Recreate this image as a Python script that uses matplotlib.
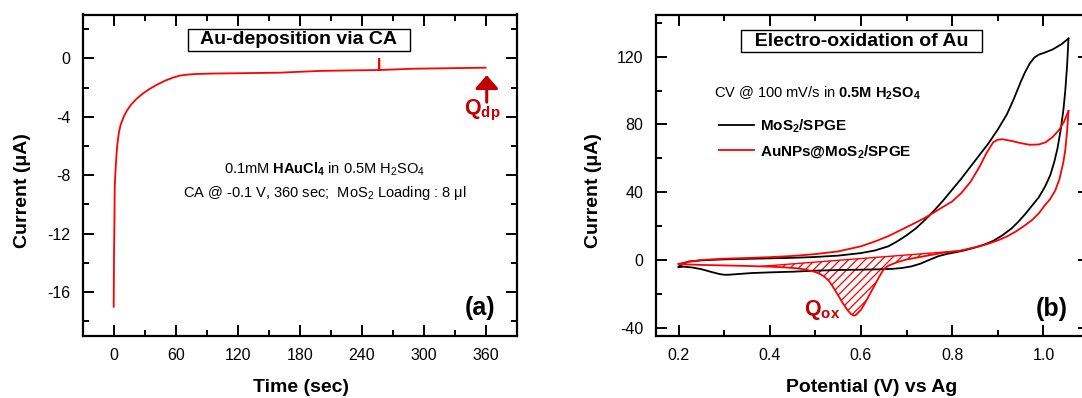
import matplotlib
matplotlib.use("Agg")
import numpy as np
import matplotlib.pyplot as plt
from matplotlib.ticker import MultipleLocator

# ---- (a) chronoamperometry: Au deposition ----
ca_time = [0, 0.3, 0.7, 1.0, 1.5, 2, 3, 4, 5, 6.5, 8, 10, 13, 17, 22, 28, 35,
           42, 50, 57, 64, 72, 80, 96, 120, 140, 161, 180, 200, 225, 257,
           257, 257, 290, 320, 340, 360]
ca_current = [-17.0, -13.5, -11.1, -8.8, -8.0, -7.4, -6.3, -5.6, -5.1, -4.6,
              -4.3, -3.95, -3.55, -3.15, -2.78, -2.42, -2.08, -1.8, -1.52, -1.33,
              -1.18, -1.11, -1.07, -1.04, -1.02, -1.0, -0.98, -0.92, -0.86,
              -0.83, -0.80, -0.03, -0.80, -0.71, -0.68, -0.66, -0.64]

# ---- (b) cyclic voltammetry: electro-oxidation of Au ----
mos2_fwd_v = [0.20, 0.21, 0.222, 0.25, 0.30, 0.35, 0.40, 0.45, 0.50, 0.55, 0.60,
              0.63, 0.66, 0.68, 0.70, 0.72, 0.74, 0.76, 0.78, 0.80, 0.82, 0.84,
              0.86, 0.88, 0.90, 0.92, 0.935, 0.95, 0.96, 0.97, 0.98, 0.99, 1.00,
              1.02, 1.04, 1.055]
mos2_fwd_i = [-4.0, -2.4, -1.0, -0.3, 0.3, 0.6, 0.9, 1.2, 1.7, 2.5, 4.0,
              5.5, 8.0, 11.0, 14.5, 18.5, 23.5, 29.0, 35.0, 41.5, 48.0, 55.0,
              62.0, 69.0, 77.0, 86.0, 95.0, 105.0, 111.0, 116.0, 119.5, 121.3,
              122.2, 124.3, 127.5, 130.8]
mos2_rev_v = [1.055, 1.052, 1.048, 1.044, 1.038, 1.031, 1.024, 1.015, 1.004,
              0.99, 0.975, 0.96, 0.945, 0.93, 0.91, 0.89, 0.87, 0.85, 0.83,
              0.81, 0.79, 0.77, 0.75, 0.73, 0.71, 0.69, 0.67, 0.64, 0.60, 0.55,
              0.50, 0.45, 0.40, 0.36, 0.33, 0.31, 0.30, 0.29, 0.27, 0.25, 0.23,
              0.21, 0.20]
mos2_rev_i = [130.8, 115.0, 100.0, 89.0, 77.0, 66.0, 58.0, 50.0, 43.5,
              37.0, 32.0, 27.0, 22.5, 18.5, 14.5, 11.2, 9.0, 7.3, 5.8,
              4.6, 3.6, 2.2, 0.0, -2.3, -3.9, -4.8, -5.3, -5.6, -5.8, -6.0,
              -6.4, -7.0, -7.4, -7.8, -8.4, -8.8, -8.8, -8.4, -7.0, -5.5, -4.5,
              -4.0, -4.4]

au_fwd_v = [0.20, 0.22, 0.25, 0.30, 0.35, 0.40, 0.45, 0.50, 0.55, 0.60, 0.63,
            0.66, 0.69, 0.72, 0.74, 0.76, 0.78, 0.80, 0.82, 0.84, 0.86, 0.875,
            0.89, 0.90, 0.91, 0.93, 0.95, 0.97, 0.99, 1.005, 1.02, 1.035,
            1.045, 1.055]
au_fwd_i = [-2.4, -1.2, -0.1, 0.7, 1.1, 1.6, 2.3, 3.4, 5.0, 8.0, 10.8,
            14.0, 18.0, 22.0, 24.8, 28.0, 31.3, 34.5, 39.5, 46.0, 55.0, 63.0,
            69.5, 71.0, 71.3, 70.3, 69.0, 68.0, 68.2, 69.5, 72.5, 77.0,
            81.5, 88.0]
au_rev_v = [1.055, 1.052, 1.048, 1.044, 1.035, 1.026, 1.015, 1.004, 0.99,
            0.975, 0.96, 0.94, 0.92, 0.90, 0.88, 0.86, 0.84, 0.815, 0.78,
            0.76, 0.74, 0.72, 0.70, 0.68, 0.66, 0.65, 0.64, 0.63, 0.62, 0.61,
            0.60, 0.59, 0.585, 0.578, 0.57, 0.56, 0.55, 0.54, 0.53, 0.52,
            0.51, 0.50, 0.48, 0.46, 0.43, 0.40, 0.38, 0.35, 0.30, 0.25, 0.22,
            0.20]
au_rev_i = [88.0, 76.0, 65.0, 58.0, 47.5, 41.0, 36.0, 32.5, 27.5,
            23.5, 20.5, 16.8, 13.8, 11.5, 9.6, 8.0, 6.8, 5.3, 4.2,
            3.2, 2.2, 1.2, 0.2, -1.3, -3.5, -5.5, -10.0, -15.0, -20.0, -25.0,
            -29.5, -32.3, -33.0, -32.0, -29.5, -25.5, -21.0, -16.5, -12.5, -10.0,
            -8.3, -7.2, -5.8, -5.0, -4.4, -4.0, -3.85, -3.6, -3.3, -3.0, -2.7,
            -2.4]

# baseline under the Au-oxide reduction peak
qox_base_v = [0.38, 0.815]
qox_base_i = [-3.85, 5.3]

DARK_RED = "#C00000"


def setup_fonts():
    """Arial-like fonts everywhere, also inside mathtext."""
    plt.rcParams["font.family"] = ["Liberation Sans", "DejaVu Sans"]
    plt.rcParams["mathtext.fontset"] = "custom"
    plt.rcParams["mathtext.rm"] = "Liberation Sans"
    plt.rcParams["mathtext.bf"] = "Liberation Sans:bold"
    plt.rcParams["mathtext.it"] = "Liberation Sans:italic"
    plt.rcParams["axes.unicode_minus"] = False
    plt.rcParams["hatch.linewidth"] = 0.9


def style_axes(ax):
    """Origin-like frame: thick spines, inward ticks on all four sides."""
    for s in ax.spines.values():
        s.set_linewidth(1.6)
    ax.tick_params(which="both", direction="in", top=True, right=True,
                   width=1.4, labelsize=11.5)
    ax.tick_params(which="major", length=8)
    ax.tick_params(which="minor", length=4)
    ax.tick_params(axis="x", pad=8.5)
    ax.tick_params(axis="y", pad=9)


def title_box(ax, x, y, text):
    ax.text(x, y, "  " + text + "  ", transform=ax.transAxes,
            ha="center", va="center", fontsize=14, fontweight="bold",
            bbox=dict(boxstyle="square,pad=0.13", fc="white", ec="black", lw=1.0))


def plot_ca(ax):
    ax.plot(ca_time, ca_current, color="red", lw=1.3)
    ax.set_xlim(-30, 390)
    ax.set_ylim(-19, 3)
    ax.xaxis.set_major_locator(MultipleLocator(60))
    ax.xaxis.set_minor_locator(MultipleLocator(30))
    ax.yaxis.set_major_locator(MultipleLocator(4))
    ax.yaxis.set_minor_locator(MultipleLocator(2))
    style_axes(ax)

    ax.set_xlabel("Time (sec)", fontsize=14, fontweight="bold")
    ax.set_ylabel("Current (μA)", fontsize=14, fontweight="bold")
    ax.xaxis.set_label_coords(0.503, -0.135)
    ax.yaxis.set_label_coords(-0.12, 0.452)

    title_box(ax, 0.498, 0.9216, "Au-deposition via CA")
    ax.text(204, -7.6, r"0.1mM $\mathbf{HAuCl}_\mathbf{4}$ in 0.5M H$_2$SO$_4$",
            ha="center", va="center", fontsize=10.5)
    ax.text(204, -9.2, r"CA @ -0.1 V, 360 sec;  MoS$_2$ Loading : 8 μl",
            ha="center", va="center", fontsize=10.5)

    ax.annotate("", xy=(361, -1.15), xytext=(361, -3.0),
                arrowprops=dict(arrowstyle="-|>,head_length=0.4,head_width=0.35",
                                color=DARK_RED, lw=2.2, mutation_scale=20,
                                shrinkA=0, shrinkB=0))
    ax.text(339, -3.85, r"Q$_\mathbf{dp}$", color=DARK_RED, fontsize=15.5,
            fontweight="bold", ha="left", va="baseline")
    ax.text(355, -17.05, "(a)", fontsize=18, fontweight="bold",
            ha="center", va="center")


def plot_cv(ax):
    ax.plot(mos2_fwd_v, mos2_fwd_i, color="black", lw=1.3,
            label=r"MoS$_\mathbf{2}$/SPGE")
    ax.plot(mos2_rev_v, mos2_rev_i, color="black", lw=1.3)
    ax.plot(au_fwd_v, au_fwd_i, color="red", lw=1.3,
            label=r"AuNPs@MoS$_\mathbf{2}$/SPGE")
    ax.plot(au_rev_v, au_rev_i, color="red", lw=1.3)

    # hatched charge of the reduction peak, closed by the straight baseline
    rev_v = np.array(au_rev_v)
    rev_i = np.array(au_rev_i)
    inside = (rev_v < qox_base_v[1]) & (rev_v > qox_base_v[0])
    poly_v = [qox_base_v[1]] + list(rev_v[inside]) + [qox_base_v[0]]
    poly_i = [qox_base_i[1]] + list(rev_i[inside]) + [qox_base_i[0]]
    ax.fill(poly_v, poly_i, facecolor="none", edgecolor="red", hatch="////", lw=0)
    ax.plot(qox_base_v, qox_base_i, color="red", lw=1.0)

    ax.set_xlim(0.15, 1.10)
    ax.set_ylim(-45, 145)
    ax.xaxis.set_major_locator(MultipleLocator(0.2))
    ax.xaxis.set_minor_locator(MultipleLocator(0.1))
    ax.yaxis.set_major_locator(MultipleLocator(40))
    ax.yaxis.set_minor_locator(MultipleLocator(20))
    ax.xaxis.set_major_formatter(lambda v, pos: f"{v:.1f}")
    style_axes(ax)

    ax.set_xlabel("Potential (V) vs Ag", fontsize=14, fontweight="bold")
    ax.set_ylabel("Current (μA)", fontsize=14, fontweight="bold")
    ax.xaxis.set_label_coords(0.499, -0.135)
    ax.yaxis.set_label_coords(-0.124, 0.452)

    title_box(ax, 0.475, 0.917, "Electro-oxidation of Au")
    ax.text(0.504, 98.7,
            r"CV @ 100 mV/s in $\mathbf{0.5M\ H}_\mathbf{2}\mathbf{SO}_\mathbf{4}$",
            ha="center", va="center", fontsize=10.5)
    ax.legend(loc="upper left", bbox_to_anchor=(0.145, 0.68), frameon=False,
              borderpad=0, borderaxespad=0, handlelength=2.35,
              handletextpad=0.35, labelspacing=0.55,
              prop={"weight": "bold", "size": 11})

    ax.text(0.475, -32.8, r"Q$_\mathbf{ox}$", color=DARK_RED, fontsize=15.5,
            fontweight="bold", ha="left", va="baseline")
    ax.text(1.018, -29.3, "(b)", fontsize=18, fontweight="bold",
            ha="center", va="center")


if __name__ == "__main__":
    setup_fonts()
    fig = plt.figure(figsize=(10.82, 3.98), dpi=100)
    ax_a = fig.add_axes([82.7 / 1082, 1 - 336 / 398, 434 / 1082, 321.5 / 398])
    ax_b = fig.add_axes([655.7 / 1082, 1 - 336 / 398, 433.3 / 1082, 321.5 / 398])
    plot_ca(ax_a)
    plot_cv(ax_b)
    fig.savefig("out.png", dpi=100)
    print("Saved: out.png")
